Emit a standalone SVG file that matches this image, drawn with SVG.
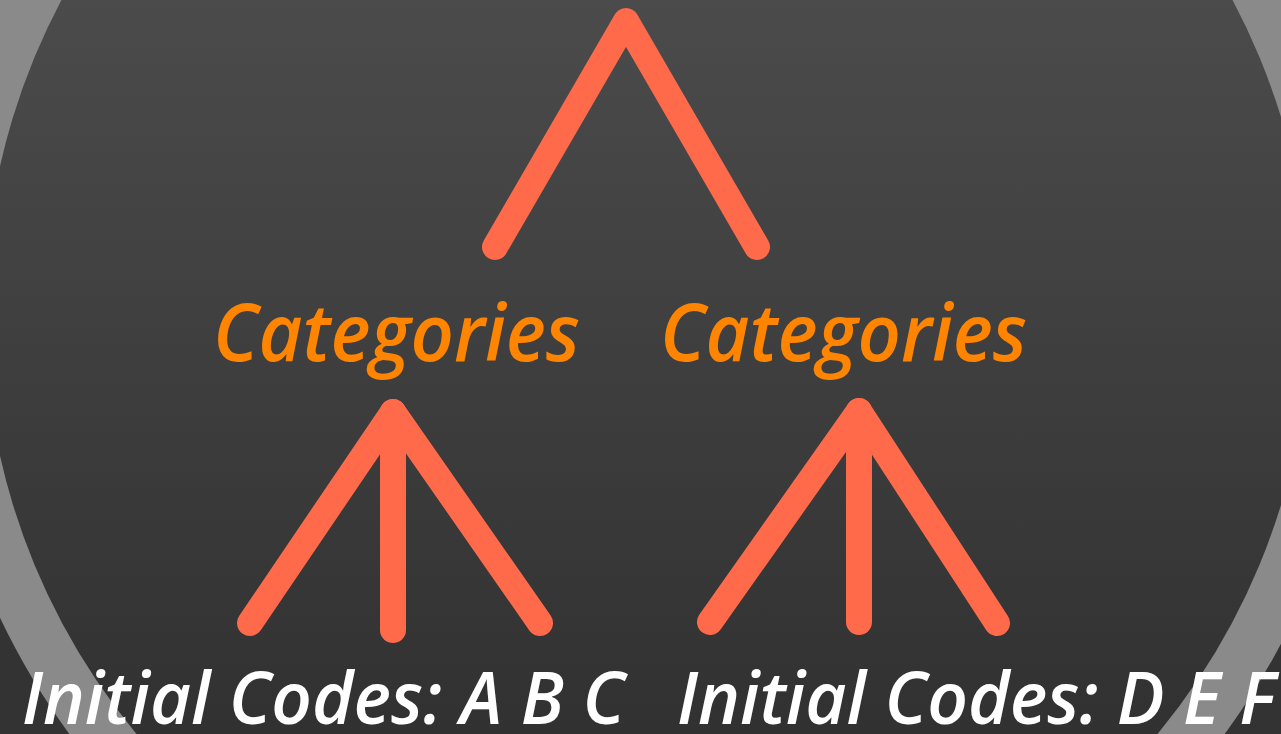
<svg xmlns="http://www.w3.org/2000/svg" width="1281" height="734" viewBox="0 0 1281 734">
  <defs>
    <linearGradient id="discFill" gradientUnits="userSpaceOnUse" x1="0" y1="0" x2="0" y2="734">
      <stop offset="0" stop-color="#4b4b4b"/>
      <stop offset="1" stop-color="#313131"/>
    </linearGradient>
    <style>
      .branch { fill: none; stroke: #ff6a4b; stroke-width: 26; stroke-linecap: round; stroke-linejoin: round; }
      .cat { font-family: "Open Sans", "Liberation Sans", sans-serif; font-style: italic; font-weight: 600; font-size: 80px; fill: #ff8400; }
      .codes { font-family: "Open Sans", "Liberation Sans", sans-serif; font-style: italic; font-weight: 600; font-size: 72px; fill: #ffffff; }
    </style>
  </defs>

  <!-- backdrop: light above, dark below -->
  <rect x="0" y="0" width="1281" height="311" fill="#8a8a8a"/>
  <rect x="0" y="311" width="1281" height="423" fill="#333333"/>

  <!-- ring and dark disc -->
  <circle cx="647" cy="311" r="716" fill="#8a8a8a"/>
  <circle cx="647" cy="311" r="663" fill="url(#discFill)"/>

  <!-- connectors -->
  <g id="connectors">
    <polyline class="branch" points="495,247 626,21 757,247"/>
    <polyline class="branch" points="250,623 393,412 540,623"/>
    <line class="branch" x1="393" y1="412" x2="393" y2="630"/>
    <polyline class="branch" points="710,622 859,411 997,623"/>
    <line class="branch" x1="859" y1="411" x2="859" y2="622"/>
  </g>

  <g id="category-left">
    <text class="cat" x="213" y="361" textLength="367" lengthAdjust="spacingAndGlyphs">Categories</text>
  </g>
  <g id="category-right">
    <text class="cat" x="660" y="361" textLength="367" lengthAdjust="spacingAndGlyphs">Categories</text>
  </g>

  <g id="codes-left">
    <text class="codes" x="22" y="724" textLength="603" lengthAdjust="spacingAndGlyphs">Initial Codes: A B C</text>
  </g>
  <g id="codes-right">
    <text class="codes" x="677" y="724" textLength="598" lengthAdjust="spacingAndGlyphs">Initial Codes: D E F</text>
  </g>
</svg>
